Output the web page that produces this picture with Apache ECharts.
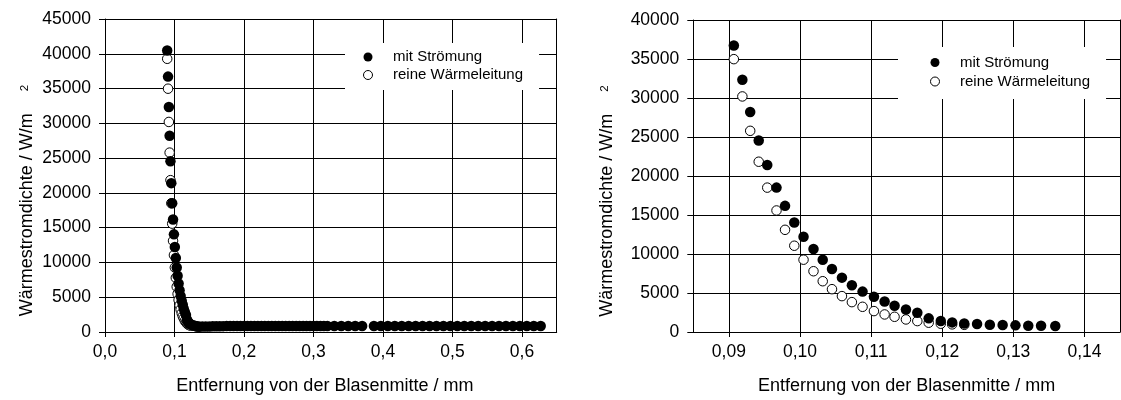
<!DOCTYPE html>
<html>
<head>
<meta charset="utf-8">
<script src="https://cdn.jsdelivr.net/npm/echarts@6/dist/echarts.min.js"></script>
<style>
  html, body { margin: 0; padding: 0; background: #fff; }
  #chart { width: 1121px; height: 400px; }
</style>
</head>
<body>
<div id="chart"></div>
<script>
// Distance from bubble centre (mm), near-wall region
const nearX = [0.0895, 0.0907, 0.0919, 0.0930, 0.0942, 0.0954, 0.0967, 0.0979, 0.0992, 0.1005,
               0.1019, 0.1032, 0.1045, 0.1059, 0.1073, 0.1088, 0.1104, 0.1119, 0.1133, 0.1149,
               0.1165, 0.1181, 0.1198, 0.1214, 0.1231, 0.1249, 0.1267, 0.1285, 0.1303, 0.1321,
               0.1339, 0.1359];
// Heat flux with flow (W/m²)
const flowNear = [40470, 36720, 32340, 28210, 24550, 21400, 18510, 16170, 14040, 12210,
                  10630, 9270, 8080, 6970, 6000, 5180, 4510, 3910, 3360, 2890,
                  2460, 1750, 1400, 1230, 1100, 1020, 930, 890, 850, 800,
                  800, 770];
// Heat flux, pure conduction (W/m²)
const condNear = [39280, 34980, 30200, 25790, 21830, 18510, 15580, 13100, 11060, 9270,
                  7790, 6510, 5490, 4600, 3830, 3230, 2680, 2250, 1950, 1610,
                  1400, 1190, 1060, 980, 920];
// Far field (overview only)
const farX = [0.140, 0.145, 0.150, 0.155, 0.160, 0.165, 0.170, 0.175, 0.180, 0.185,
              0.190, 0.195, 0.200, 0.205, 0.210, 0.215, 0.220, 0.225, 0.230, 0.235,
              0.240, 0.245, 0.250, 0.255, 0.260, 0.265, 0.270, 0.275, 0.280, 0.285,
              0.290, 0.295, 0.300, 0.305, 0.310, 0.315, 0.320,
              0.330, 0.340, 0.350, 0.360, 0.370,
              0.387, 0.397, 0.407, 0.417, 0.427, 0.437, 0.447, 0.457, 0.467, 0.477,
              0.487, 0.497, 0.507, 0.517, 0.527, 0.537, 0.547, 0.557, 0.567, 0.577,
              0.587, 0.597, 0.607, 0.617, 0.627];
const flowFar = [780, 790, 800, 810, 820, 830, 840, 850, 850, 860,
                 860, 860, 870, 870, 870, 870, 870, 870, 870, 870,
                 870, 870, 870, 870, 870, 870, 870, 870, 870, 870,
                 870, 870, 870, 870, 870, 870, 870,
                 870, 870, 870, 870, 870,
                 870, 870, 870, 870, 870, 870, 870, 870, 870, 870,
                 870, 870, 870, 870, 870, 870, 870, 870, 870, 870,
                 870, 870, 870, 870, 870];

const overviewTicks = [0, 0.1, 0.2, 0.3, 0.4, 0.5, 0.6];
const detailTicks = [0.09, 0.10, 0.11, 0.12, 0.13, 0.14];
const seriesNames = ['mit Strömung', 'reine Wärmeleitung'];
const xTitle = 'Entfernung von der Blasenmitte / mm';
const yTitle = 'Wärmestromdichte / W/m{s|2}{p|}';

const FONT = '"Liberation Sans", Arial, Helvetica, sans-serif';
const INK = '#000';

function pairs(xs, ys) { return ys.map((y, i) => [xs[i], y]); }

// overview uses the whole profile, detail omits the first wall point
const flowAll = pairs(nearX, flowNear).concat(pairs(farX, flowFar));
const condAll = pairs(nearX, condNear);
const flowDetail = pairs(nearX, flowNear).slice(1);
const condDetail = pairs(nearX, condNear).slice(1);

function xAxes(gridIndex, min, max, ticks, decimals, namePad) {
  return [{
    type: 'value', gridIndex, min, max, position: 'bottom',
    axisLine: { show: true, onZero: false, lineStyle: { color: INK, width: 1 } },
    axisTick: { show: true, inside: false, length: 5, customValues: ticks, lineStyle: { color: INK } },
    axisLabel: { customValues: ticks, formatter: v => v.toFixed(decimals).replace('.', ','),
                 fontSize: 17.5, color: INK, fontFamily: FONT, margin: 11 },
    splitLine: { show: true, lineStyle: { color: INK, width: 1 } },
    name: xTitle, nameLocation: 'middle', nameGap: 45,
    nameTextStyle: { fontSize: 18, color: INK, fontFamily: FONT, padding: namePad }
  }, {
    type: 'value', gridIndex, min, max, position: 'top',
    axisLine: { show: true, onZero: false, lineStyle: { color: INK, width: 1 } },
    axisTick: { show: true, inside: true, length: 7, customValues: ticks, lineStyle: { color: INK } },
    axisLabel: { show: false }, splitLine: { show: false }
  }];
}

function yAxes(gridIndex, max, nameGap) {
  return [{
    type: 'value', gridIndex, min: 0, max, interval: 5000, position: 'left',
    axisLine: { show: true, onZero: false, lineStyle: { color: INK, width: 1 } },
    axisTick: { show: true, inside: false, length: 6, lineStyle: { color: INK } },
    axisLabel: { fontSize: 17.5, color: INK, fontFamily: FONT, margin: 14,
                 formatter: v => String(Math.round(v)) },
    splitLine: { show: true, lineStyle: { color: INK, width: 1 } },
    name: yTitle, nameLocation: 'middle', nameGap, nameRotate: 90,
    nameTextStyle: {
      fontSize: 18, color: INK, fontFamily: FONT,
      rich: {
        s: { fontSize: 11.5, color: INK, fontFamily: FONT, padding: [0, 0, 5, 22] },
        p: { width: 50 }
      }
    }
  }, {
    type: 'value', gridIndex, min: 0, max, interval: 5000, position: 'right',
    axisLine: { show: true, onZero: false, lineStyle: { color: INK, width: 1 } },
    axisTick: { show: true, inside: true, length: 7, lineStyle: { color: INK } },
    axisLabel: { show: false }, splitLine: { show: false }
  }];
}

function legend(left, top, padding, lineHeight) {
  return {
    orient: 'vertical', left, top, padding, itemGap: 0,
    backgroundColor: '#fff', borderWidth: 0,
    itemWidth: 40, itemHeight: 9, icon: 'circle',
    textStyle: { fontSize: 15, color: INK, fontFamily: FONT, lineHeight },
    data: [
      { name: seriesNames[0], itemStyle: { color: INK, borderColor: INK, borderWidth: 0 } },
      { name: seriesNames[1], itemStyle: { color: '#fff', borderColor: INK, borderWidth: 1 } }
    ],
    selectedMode: false
  };
}

function scatterPair(xIdx, yIdx, flow, cond) {
  return [{
    name: seriesNames[1], type: 'scatter', xAxisIndex: xIdx, yAxisIndex: yIdx,
    data: cond, symbol: 'circle', symbolSize: 9.5,
    itemStyle: { color: '#fff', borderColor: INK, borderWidth: 1, opacity: 1 },
    z: 3
  }, {
    name: seriesNames[0], type: 'scatter', xAxisIndex: xIdx, yAxisIndex: yIdx,
    data: flow, symbol: 'circle', symbolSize: 10.5,
    itemStyle: { color: INK, opacity: 1 },
    z: 3
  }];
}

const chart = echarts.init(document.getElementById('chart'), null, { renderer: 'canvas' });
chart.setOption({
  animation: false,
  backgroundColor: '#fff',
  textStyle: { fontFamily: FONT },
  grid: [
    { left: 105, top: 19, width: 451.7, height: 314.3, containLabel: false },
    { left: 693.3, top: 20, width: 426.7, height: 313.3, containLabel: false }
  ],
  xAxis: [
    ...xAxes(0, 0, 0.65, overviewTicks, 1, [0, 12, 0, 0]),
    ...xAxes(1, 0.085, 0.145, detailTicks, 2, 0)
  ],
  yAxis: [
    ...yAxes(0, 45000, 69),
    ...yAxes(1, 40000, 77)
  ],
  legend: [
    legend(345, 43, [5, 16, 6, 18], 18),
    legend(898, 47, [6, 16, 8, 32], 19)
  ],
  series: [
    ...scatterPair(0, 0, flowAll, condAll),
    ...scatterPair(2, 2, flowDetail, condDetail)
  ]
});
</script>
</body>
</html>
